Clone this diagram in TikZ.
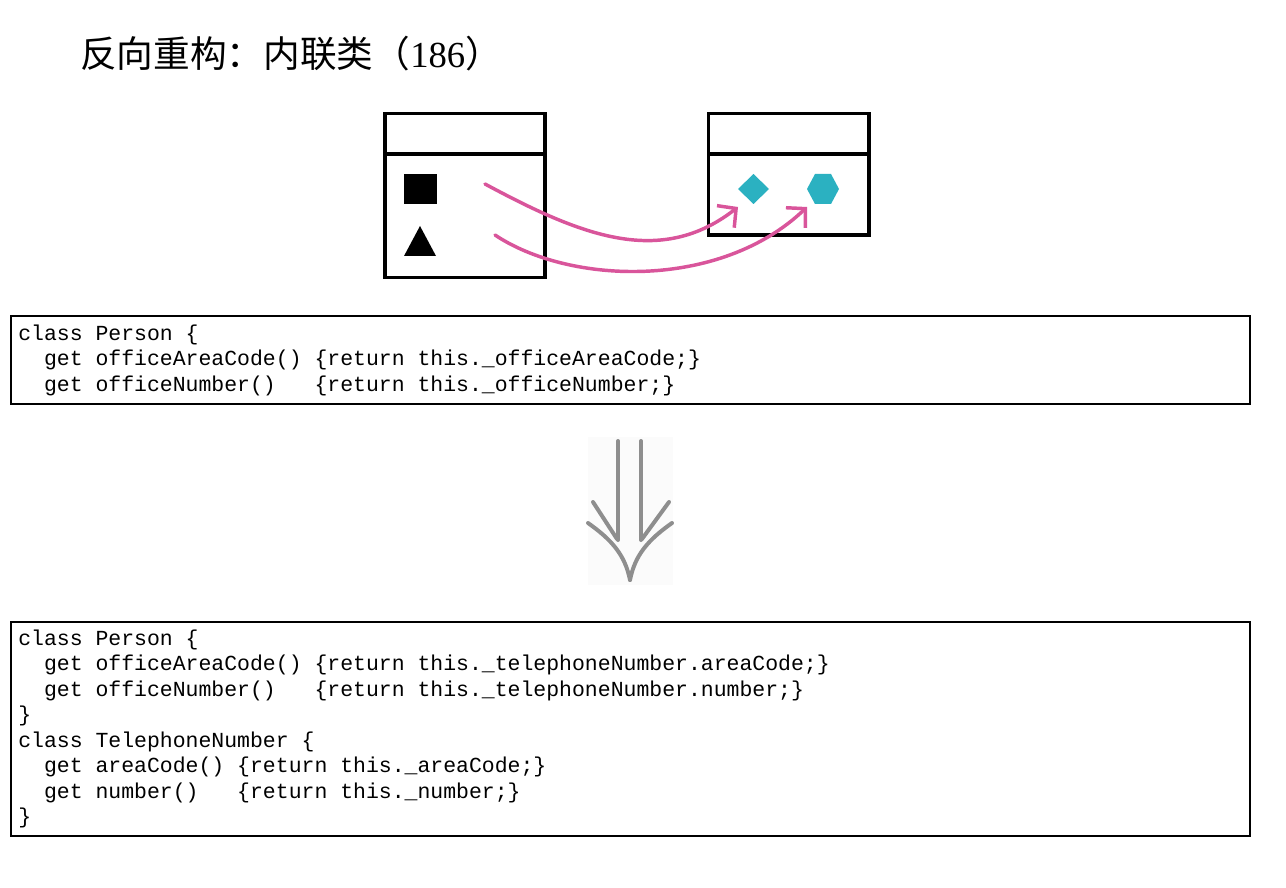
\documentclass[tikz,border=0pt]{standalone}
\usepackage{fontspec}
\setmainfont{Liberation Serif}
\newfontfamily\cjkfont{Noto Sans CJK SC}
\newfontfamily\codefont{Liberation Mono}
\usetikzlibrary{arrows.meta}
\definecolor{teal}{HTML}{2BB1C1}
\definecolor{pinkarrow}{HTML}{D9559B}
\definecolor{arrowgray}{HTML}{8E8E8E}
\tikzset{
  classbox/.style={draw=black, line width=2.5pt},
  codeframe/.style={draw=black, line width=0.8pt},
  codeline/.style={font=\codefont\fontsize{16.1}{19}\selectfont, anchor=base west, inner sep=0pt},
  move/.style={draw=pinkarrow, line width=2.6pt, line cap=round,
    -{Straight Barb[length=10pt,width=21pt,line width=2.6pt]}},
  bigarrow/.style={draw=arrowgray, line width=3pt, line cap=round},
}
\begin{document}
\begin{tikzpicture}[x=0.75pt,y=-0.75pt]
\useasboundingbox (0,0) rectangle (1286,888);
\fill[white] (0,0) rectangle (1286,888);

% heading
\node[anchor=base west, inner sep=0pt, font=\fontsize{27.5}{31}\selectfont] (title) at (80,68)
  {\cjkfont 反向重构：内联类（\rmfamily 186\cjkfont ）};

% source class
\draw[classbox] (385,113.5) rectangle (545,277.5);
\draw[classbox] (385,154) -- (545,154);
\node[fill=black, minimum width=24.75pt, minimum height=22.5pt, inner sep=0pt] (sq) at (420,189) {};
\fill[black] (420,226) -- (436,256) -- (404,256) -- cycle;
\coordinate (tri) at (420,244);

% target class
\draw[classbox] (708.5,113.5) rectangle (869,235);
\draw[classbox] (708.5,154) -- (869,154);
\fill[teal] (738,189) -- (753.5,174) -- (769,189) -- (753.5,204) -- cycle;
\coordinate (dia) at (753.5,189);
\fill[teal] (807,189) -- (815,174) -- (831,174) -- (839,189) -- (831,204) -- (815,204) -- cycle;
\coordinate (hex) at (823,189);

% moved features
\coordinate (s1) at (485,184);
\coordinate (t1) at (738,207);
\coordinate (s2) at (495,235);
\coordinate (t2) at (807,207);
\draw[move] (s1) .. controls (580,235) and (660,268) .. (t1);
\draw[move] (s2) .. controls (570,285) and (720,290) .. (t2);

% code before
\draw[codeframe] (11,316) rectangle (1250,404);
\node[codeline] (b1) at (18,340) {class Person \{};
\node[codeline] (b2) at (18,365.5) {~~get officeAreaCode() \{return this.\_officeAreaCode;\}};
\node[codeline] (b3) at (18,391) {~~get officeNumber()~~~\{return this.\_officeNumber;\}};

% transformation arrow
\fill[black!1.5] (588,437) rectangle (673,585);
\draw[bigarrow] (618,441) -- (618,540);
\draw[bigarrow] (641,441) -- (641,540);
\draw[bigarrow] (593,502) -- (617,539);
\draw[bigarrow] (669,502) -- (642,539);
\draw[bigarrow] (588,523) .. controls (612,540) and (625,555) .. (630,580);
\draw[bigarrow] (672,523) .. controls (648,540) and (635,555) .. (630,580);

% code after
\draw[codeframe] (11,622) rectangle (1250,836);
\node[codeline] (a1) at (18,645) {class Person \{};
\node[codeline] (a2) at (18,670.5) {~~get officeAreaCode() \{return this.\_telephoneNumber.areaCode;\}};
\node[codeline] (a3) at (18,696) {~~get officeNumber()~~~\{return this.\_telephoneNumber.number;\}};
\node[codeline] (a4) at (18,721.5) {\}};
\node[codeline] (a5) at (18,747) {class TelephoneNumber \{};
\node[codeline] (a6) at (18,772.5) {~~get areaCode() \{return this.\_areaCode;\}};
\node[codeline] (a7) at (18,798) {~~get number()~~~\{return this.\_number;\}};
\node[codeline] (a8) at (18,823.5) {\}};
\end{tikzpicture}
\end{document}
